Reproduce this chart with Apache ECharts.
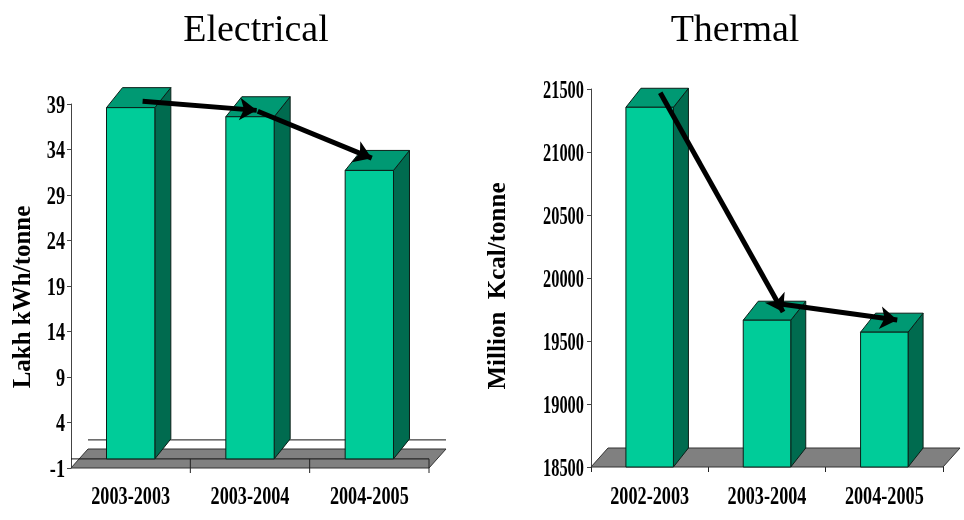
<!DOCTYPE html>
<html><head><meta charset="utf-8"><style>html,body{margin:0;padding:0;background:#fff}#c{width:964px;height:520px}</style>
<script src="https://cdn.jsdelivr.net/npm/echarts@6/dist/echarts.min.js"></script></head>
<body><div id="c"></div><script>
const elecCategories = ['2003-2003','2003-2004','2004-2005'];
const elecValues = [38.6, 37.6, 31.7];
const elecTicks = [-1,4,9,14,19,24,29,34,39];
const elecArrows = [
  [[0.10,39.3],[1.056,38.3]],
  [[1.065,38.2],[2.02,33.05]]
];
const thermCategories = ['2002-2003','2003-2004','2004-2005'];
const thermValues = [21355, 19665, 19570];
const thermTicks = [18500,19000,19500,20000,20500,21000,21500];
const thermArrows = [
  [[0.09,21470],[1.137,19730]],
  [[1.07,19800],[2.11,19666]]
];
const FRONT='#00CC99', TOP='#009973', SIDE='#006B4F', FLOOR='#808080', EDGE='#0b1f18';
const font='"Liberation Serif",serif';
const chart=echarts.init(document.getElementById('c'),null,{renderer:'canvas'});

function poly(points,fill,stroke,w){return {type:'polygon',shape:{points},style:{fill,stroke:stroke||EDGE,lineWidth:w||1}};}
function seg(x1,y1,x2,y2,c,w){return {type:'line',shape:{x1,y1,x2,y2},style:{stroke:c||'#111',lineWidth:w||1}};}

function barSeries(g,vals,base,dx,dy){
  return {type:'custom',xAxisIndex:g,yAxisIndex:g,z:5,clip:false,silent:true,
    data:vals.map((v,i)=>[i,v]),encode:{x:0,y:1},
    renderItem(p,api){
      const t=api.coord([api.value(0),api.value(1)]), b=api.coord([api.value(0),base]);
      const w=api.size([1,0])[0]*0.405, l=t[0]-w/2, r=t[0]+w/2;
      return {type:'group',children:[
        poly([[r,t[1]],[r+dx,t[1]-dy],[r+dx,b[1]-dy],[r,b[1]]],SIDE),
        poly([[l,t[1]],[l+dx,t[1]-dy],[r+dx,t[1]-dy],[r,t[1]]],TOP),
        poly([[l,t[1]],[r,t[1]],[r,b[1]],[l,b[1]]],FRONT)
      ]};
    }};
}
function floorSeries(g,n,minV,zeroV,dx,dy){
  return {type:'custom',xAxisIndex:g,yAxisIndex:g,z:1,clip:false,silent:true,
    data:[[1,minV]],encode:{x:0,y:1},
    renderItem(p,api){
      const bw=api.size([1,0])[0];
      const c0=api.coord([0,minV]), x0=c0[0]-bw/2, x1=x0+bw*n, y=c0[1];
      const kids=[poly([[x0,y],[x0+dx,y-dy],[x1+dx,y-dy],[x1,y]],FLOOR,'#333')];
      if(zeroV!==minV){
        const z=api.coord([0,zeroV])[1];
        kids.push(seg(x0,z,x1,z));
        kids.push(seg(x0+dx,z-dy,x1+dx,z-dy));
        for(let i=1;i<=n;i++){kids.push(seg(x0+bw*i,z,x0+bw*i,y+5,'#222'));}
      }
      return {type:'group',children:kids};
    }};
}
// Tick labels are squeezed horizontally like the reference, so they are placed through the axis scales.
function textStyle(text,size,align){return {text,fontFamily:font,fontWeight:'bold',fontSize:size,fill:'#000',align,verticalAlign:'middle'};}
function yLabelSeries(g,ticks,size,sx,gap){
  return {type:'custom',xAxisIndex:g,yAxisIndex:g,z:6,clip:false,silent:true,
    data:ticks.map(t=>[0,t]),encode:{x:0,y:1},
    renderItem(p,api){
      const c=api.coord([0,api.value(1)]), bw=api.size([1,0])[0];
      return {type:'text',x:c[0]-bw/2-gap,y:c[1]+2,scaleX:sx,style:textStyle(String(api.value(1)),size,'right')};
    }};
}
function xLabelSeries(g,cats,minV,size,sx,gap){
  return {type:'custom',xAxisIndex:g,yAxisIndex:g,z:6,clip:false,silent:true,
    data:cats.map((c,i)=>[i,minV]),encode:{x:0,y:1},
    renderItem(p,api){
      const i=api.value(0), c=api.coord([i,minV]);
      return {type:'text',x:c[0],y:c[1]+gap,scaleX:sx,style:textStyle(cats[i],size,'center')};
    }};
}
function arrowSeries(xIdx,yIdx,arrows){
  return {type:'lines',coordinateSystem:'cartesian2d',xAxisIndex:xIdx,yAxisIndex:yIdx,z:10,clip:false,silent:true,
    symbol:['none','arrow'],symbolSize:17,polyline:false,
    lineStyle:{color:'#000',width:5,opacity:1,curveness:0},
    data:arrows.map(a=>({coords:a}))};
}
function xCat(g,cats){return {type:'category',gridIndex:g,data:cats,boundaryGap:true,
  axisLine:{show:false,onZero:false},axisTick:{show:g===1,length:5,lineStyle:{color:'#222'},alignWithLabel:false},axisLabel:{show:false},splitLine:{show:false}};}
function xHidden(g){return {type:'value',gridIndex:g,min:-0.5,max:2.5,show:false,axisLine:{show:false,onZero:false},axisTick:{show:false},axisLabel:{show:false},splitLine:{show:false}};}
function yVal(g,min,max,interval){return {type:'value',gridIndex:g,min,max,interval,
  axisLine:{show:true,onZero:false,lineStyle:{color:'#444'}},axisTick:{show:true,length:4,lineStyle:{color:'#444'}},
  axisLabel:{show:false},splitLine:{show:false}};}
function nameText(text,x,y){return {type:'text',x,y,rotation:Math.PI/2,
  style:{text,fontFamily:font,fontWeight:'bold',fontSize:25,fill:'#000',align:'center',verticalAlign:'middle'}};}

chart.setOption({
  animation:false,backgroundColor:'#fff',
  title:[
    {text:'Electrical',left:251,top:7,textAlign:'center',textStyle:{fontFamily:font,fontWeight:'normal',fontSize:38,color:'#000'}},
    {text:'Thermal',left:730,top:7,textAlign:'center',textStyle:{fontFamily:font,fontWeight:'normal',fontSize:38,color:'#000'}}
  ],
  graphic:[nameText('Lakh kWh/tonne',24,297),nameText('Million  Kcal/tonne',499,286)],
  grid:[
    {left:71,top:104,width:358,height:364},
    {left:591,top:89,width:352,height:378}
  ],
  xAxis:[xCat(0,elecCategories),xCat(1,thermCategories),xHidden(0),xHidden(1)],
  yAxis:[yVal(0,-1,39,5),yVal(1,18500,21500,500)],
  series:[
    floorSeries(0,3,-1,0,17,19),
    floorSeries(1,3,18500,18500,17,19),
    barSeries(0,elecValues,0,16,20),
    barSeries(1,thermValues,18500,15,19),
    yLabelSeries(0,elecTicks,26,0.7,6),
    yLabelSeries(1,thermTicks,26,0.63,7),
    xLabelSeries(0,elecCategories,-1,26,0.7,29),
    xLabelSeries(1,thermCategories,18500,26,0.7,30),
    arrowSeries(2,0,elecArrows),
    arrowSeries(3,1,thermArrows)
  ]
});
</script></body></html>
